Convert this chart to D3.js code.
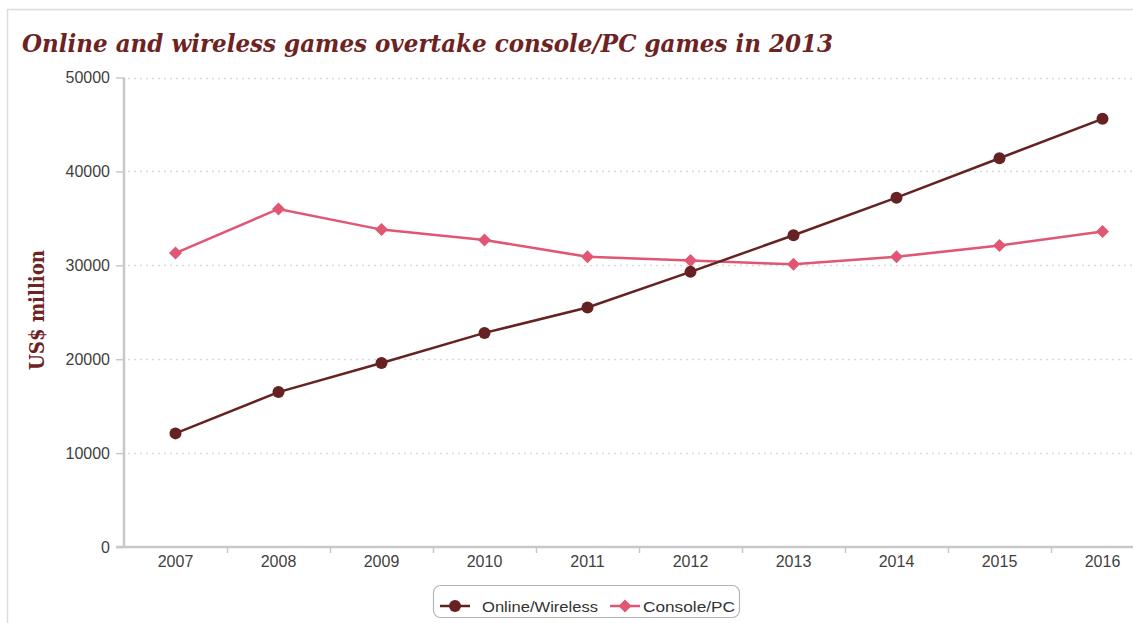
<!DOCTYPE html>
<html>
<head>
<meta charset="utf-8">
<script src="https://cdn.jsdelivr.net/npm/d3@7"></script>
<style>
  html, body { margin: 0; padding: 0; background: #fff; }
  svg { display: block; }
</style>
</head>
<body>
<svg id="chart" width="1133" height="623"></svg>
<script>
// Games revenue, US$ million
const years = ["2007", "2008", "2009", "2010", "2011", "2012", "2013", "2014", "2015", "2016"];
const onlineWireless = [12100, 16500, 19600, 22800, 25500, 29300, 33200, 37200, 41400, 45600];
const consolePC = [31300, 36000, 33800, 32700, 30900, 30500, 30100, 30900, 32100, 33600];
const yTicks = [0, 10000, 20000, 30000, 40000, 50000];
const seriesNames = ["Online/Wireless", "Console/PC"];

const W = 1133, H = 623;
const svg = d3.select("#chart");

const colOnline = "#662222";
const colConsole = "#e05673";
const maroon = "#6e2323";

// outer frame
svg.append("rect")
  .attr("x", 7.5).attr("y", 9.5)
  .attr("width", W + 20).attr("height", H + 20)
  .attr("fill", "none").attr("stroke", "#dcdcdc").attr("stroke-width", 1.5);

// title
svg.append("text")
  .attr("x", 22).attr("y", 52)
  .attr("font-family", "DejaVu Serif, Georgia, serif")
  .attr("font-style", "italic").attr("font-weight", "bold")
  .attr("font-size", 24)
  .attr("fill", maroon)
  .attr("textLength", 811).attr("lengthAdjust", "spacingAndGlyphs")
  .text("Online and wireless games overtake console/PC games in 2013");

const plotL = 124, plotR = 1154, plotT = 77.5, plotB = 547;

const x = d3.scaleBand().domain(years).range([plotL, plotR]);
const y = d3.scaleLinear().domain([0, 50000]).range([plotB, plotT]);

// dotted gridlines
svg.append("g")
  .selectAll("line")
  .data(yTicks.filter(d => d > 0))
  .join("line")
  .attr("x1", plotL + 4).attr("x2", W)
  .attr("y1", d => Math.round(y(d)) + 0.5).attr("y2", d => Math.round(y(d)) + 0.5)
  .attr("stroke", "#d9d9d9").attr("stroke-width", 1.5)
  .attr("stroke-dasharray", "2,4");

// y axis
const yAxis = svg.append("g")
  .attr("transform", `translate(${plotL},0)`)
  .call(d3.axisLeft(y).tickValues(yTicks).tickFormat(d3.format("d")).tickSize(8).tickPadding(6));
yAxis.select(".domain").attr("stroke", "#c8c8c8").attr("stroke-width", 2.5)
  .attr("d", `M0,${plotT}V${plotB}`);
yAxis.selectAll(".tick line").attr("stroke", "#c8c8c8").attr("stroke-width", 1.5);
yAxis.selectAll(".tick text")
  .attr("font-family", "Liberation Sans, Arial, sans-serif")
  .attr("font-size", 16).attr("fill", "#3f3f3f");

// x axis with ticks on band boundaries
const xAxisG = svg.append("g").attr("transform", `translate(0,${plotB})`);
xAxisG.append("line")
  .attr("x1", plotL - 8).attr("x2", W)
  .attr("y1", 0).attr("y2", 0)
  .attr("stroke", "#c8c8c8").attr("stroke-width", 2.5);
xAxisG.selectAll("line.bt")
  .data(years.slice(1))
  .join("line").attr("class", "bt")
  .attr("x1", d => Math.round(x(d)) + 0.5).attr("x2", d => Math.round(x(d)) + 0.5)
  .attr("y1", 0).attr("y2", 6)
  .attr("stroke", "#c8c8c8").attr("stroke-width", 1.5);
xAxisG.selectAll("text")
  .data(years)
  .join("text")
  .attr("x", d => x(d) + x.bandwidth() / 2)
  .attr("y", 20)
  .attr("text-anchor", "middle")
  .attr("font-family", "Liberation Sans, Arial, sans-serif")
  .attr("font-size", 16).attr("fill", "#3f3f3f")
  .text(d => d);

// y axis title
svg.append("text")
  .attr("transform", "translate(44,310) rotate(-90)")
  .attr("text-anchor", "middle")
  .attr("font-family", "DejaVu Serif, Georgia, serif")
  .attr("font-weight", "bold")
  .attr("font-size", 20)
  .attr("fill", maroon)
  .attr("textLength", 120).attr("lengthAdjust", "spacingAndGlyphs")
  .text("US$ million");

const cx = d => x(d) + x.bandwidth() / 2;
const line = d3.line().x(d => cx(d.year)).y(d => y(d.value));

const onlineData = years.map((yr, i) => ({ year: yr, value: onlineWireless[i] }));
const consoleData = years.map((yr, i) => ({ year: yr, value: consolePC[i] }));

const diamond = s => `M0,${-s}L${s},0L0,${s}L${-s},0Z`;

// Console/PC series
svg.append("path").datum(consoleData)
  .attr("d", line).attr("fill", "none")
  .attr("stroke", colConsole).attr("stroke-width", 2.5);
svg.append("g").selectAll("path")
  .data(consoleData).join("path")
  .attr("transform", d => `translate(${cx(d.year)},${y(d.value)})`)
  .attr("d", diamond(6.5))
  .attr("fill", colConsole);

// Online/Wireless series
svg.append("path").datum(onlineData)
  .attr("d", line).attr("fill", "none")
  .attr("stroke", colOnline).attr("stroke-width", 2.5);
svg.append("g").selectAll("circle")
  .data(onlineData).join("circle")
  .attr("cx", d => cx(d.year)).attr("cy", d => y(d.value))
  .attr("r", 6)
  .attr("fill", colOnline);

// legend
const lg = svg.append("g");
lg.append("rect")
  .attr("x", 433.5).attr("y", 585.5).attr("width", 306).attr("height", 32)
  .attr("rx", 7).attr("fill", "#fff")
  .attr("stroke", "#b5b5b5").attr("stroke-width", 1.2);
const items = [
  { name: seriesNames[0], color: colOnline, shape: "circle", x0: 440, tx: 482, len: 116 },
  { name: seriesNames[1], color: colConsole, shape: "diamond", x0: 610, tx: 643, len: 92 }
];
items.forEach(it => {
  const g = lg.append("g");
  g.append("line").attr("x1", it.x0).attr("x2", it.x0 + 30)
    .attr("y1", 606).attr("y2", 606)
    .attr("stroke", it.color).attr("stroke-width", 2.5);
  if (it.shape === "circle") {
    g.append("circle").attr("cx", it.x0 + 15).attr("cy", 606).attr("r", 6).attr("fill", it.color);
  } else {
    g.append("path").attr("transform", `translate(${it.x0 + 15},606)`)
      .attr("d", diamond(6.5)).attr("fill", it.color);
  }
  g.append("text").attr("x", it.tx).attr("y", 612)
    .attr("font-family", "Liberation Sans, Arial, sans-serif")
    .attr("font-size", 15.5).attr("fill", "#333")
    .attr("textLength", it.len).attr("lengthAdjust", "spacingAndGlyphs")
    .text(it.name);
});
</script>
</body>
</html>
